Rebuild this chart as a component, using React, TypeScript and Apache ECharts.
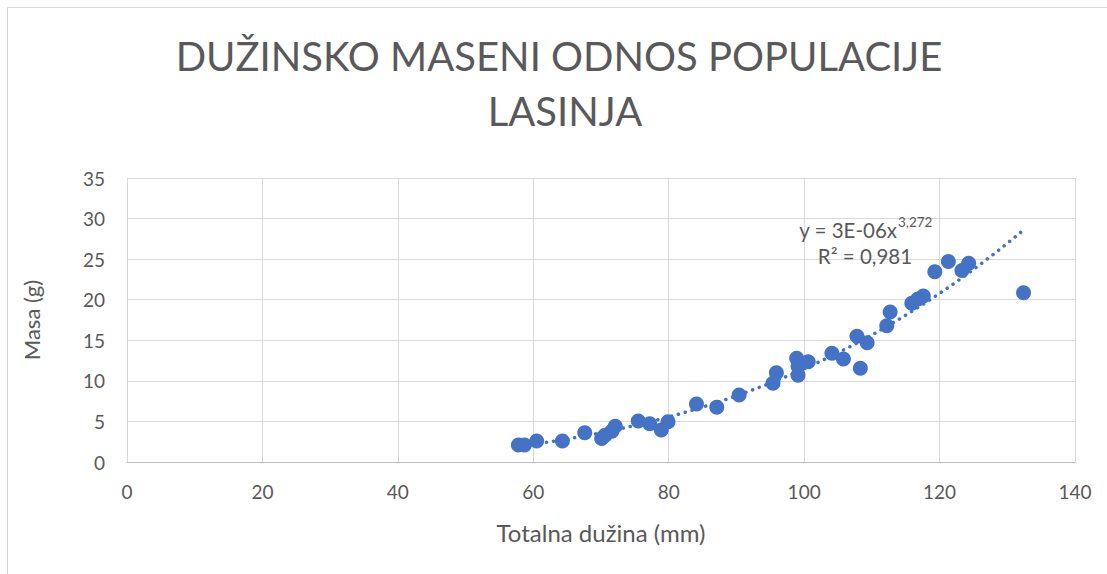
import React, { useEffect, useRef } from "react";
import * as echarts from "echarts";

const titleLines = ["DUŽINSKO MASENI ODNOS POPULACIJE", "LASINJA"];
const xAxisName = "Totalna dužina (mm)";
const yAxisName = "Masa (g)";
const equationMain = "y = 3E-06x";
const equationExp = "3,272";
const rSquaredText = "R² = 0,981";

const lengths = [
  57.8, 58.7, 60.5, 64.3, 67.6, 70.1, 70.6, 71.6, 72.1, 75.5, 77.2, 78.9, 79.9,
  84.1, 87.1, 90.4, 95.4, 95.9, 98.9, 99.1, 99.1, 100.6, 104.1, 105.8, 107.8,
  108.3, 109.3, 112.2, 112.7, 115.9, 116.8, 117.6, 119.3, 121.3, 123.3, 124.3,
  132.4,
];
const masses = [
  2.1, 2.1, 2.6, 2.6, 3.6, 2.9, 3.3, 3.8, 4.4, 5.05, 4.7, 3.95, 4.95, 7.15,
  6.75, 8.25, 9.7, 11.0, 12.8, 11.8, 10.7, 12.35, 13.4, 12.7, 15.5, 11.55,
  14.7, 16.8, 18.5, 19.55, 20.1, 20.45, 23.45, 24.7, 23.6, 24.5, 20.85,
];

const xTicks = { min: 0, max: 140, interval: 20 };
const yTicks = { min: 0, max: 35, interval: 5 };

function powerFit(xs: number[], ys: number[]) {
  const n = xs.length;
  let sx = 0, sy = 0, sxx = 0, sxy = 0;
  for (let i = 0; i < n; i++) {
    const lx = Math.log(xs[i]);
    const ly = Math.log(ys[i]);
    sx += lx; sy += ly; sxx += lx * lx; sxy += lx * ly;
  }
  const b = (n * sxy - sx * sy) / (n * sxx - sx * sx);
  const lnA = (sy - b * sx) / n;
  return { a: Math.exp(lnA), b };
}

export default function App() {
  const ref = useRef<HTMLDivElement>(null);
  useEffect(() => {
    if (!ref.current) return;
    const chart = echarts.init(ref.current, null, { renderer: "svg" });
    const fit = powerFit(lengths, masses);
    const xmin = Math.min(...lengths);
    const xmax = Math.max(...lengths);
    const trend: number[][] = [];
    const steps = 120;
    for (let i = 0; i <= steps; i++) {
      const x = xmin + ((xmax - xmin) * i) / steps;
      trend.push([x, fit.a * Math.pow(x, fit.b)]);
    }
    const font = "Lato, 'Open Sans', sans-serif";
    const textColor = "#595959";
    chart.setOption({
      animation: false,
      backgroundColor: "#ffffff",
      grid: { left: 127, right: 32, top: 178, bottom: 112, containLabel: false },
      xAxis: {
        type: "value",
        min: xTicks.min,
        max: xTicks.max,
        interval: xTicks.interval,
        name: xAxisName,
        nameLocation: "middle",
        nameGap: 58,
        nameTextStyle: { color: textColor, fontSize: 24, fontFamily: font },
        axisLine: { show: true, lineStyle: { color: "#bfbfbf", width: 1 } },
        axisTick: { show: false },
        axisLabel: { color: textColor, fontSize: 19, fontFamily: font, margin: 20 },
        splitLine: { show: true, lineStyle: { color: "#d9d9d9", width: 1 } },
      },
      yAxis: {
        type: "value",
        min: yTicks.min,
        max: yTicks.max,
        interval: yTicks.interval,
        name: yAxisName,
        nameLocation: "middle",
        nameGap: 85,
        nameRotate: 90,
        nameTextStyle: { color: textColor, fontSize: 22, fontFamily: font },
        axisLine: { show: false },
        axisTick: { show: false },
        axisLabel: { color: textColor, fontSize: 19, fontFamily: font, margin: 22 },
        splitLine: { show: true, lineStyle: { color: "#d9d9d9", width: 1 } },
      },
      series: [
        {
          type: "line",
          data: trend,
          showSymbol: false,
          symbol: "none",
          silent: true,
          lineStyle: { color: "#4472C4", width: 3.5, type: [0.1, 7], cap: "round" },
          z: 3,
        },
        {
          type: "scatter",
          data: lengths.map((x, i) => [x, masses[i]]),
          symbolSize: 15,
          itemStyle: { color: "#4472C4", opacity: 1 },
          z: 2,
        },
      ],
      graphic: [
        {
          type: "rect",
          shape: { x: 7.5, y: 7.5, width: 1300, height: 800 },
          style: { fill: "none", stroke: "#d9d9d9", lineWidth: 1 },
          silent: true,
        },
        {
          type: "text",
          x: 559,
          y: 56,
          style: {
            text: titleLines[0],
            fill: textColor,
            font: `40px ${font}`,
            textAlign: "center",
            textVerticalAlign: "middle",
          },
        },
        {
          type: "text",
          x: 565,
          y: 111,
          style: {
            text: titleLines[1],
            fill: textColor,
            font: `40px ${font}`,
            textAlign: "center",
            textVerticalAlign: "middle",
          },
        },
        {
          type: "text",
          x: 897,
          y: 230,
          z: 10,
          style: {
            text: equationMain,
            fill: textColor,
            font: `20.5px ${font}`,
            textAlign: "right",
            textVerticalAlign: "middle",
          },
        },
        {
          type: "text",
          x: 898,
          y: 222,
          z: 10,
          style: {
            text: equationExp,
            fill: textColor,
            font: `13.5px ${font}`,
            textAlign: "left",
            textVerticalAlign: "middle",
          },
        },
        {
          type: "text",
          x: 865,
          y: 256,
          z: 10,
          style: {
            text: rSquaredText,
            fill: textColor,
            font: `20.5px ${font}`,
            textAlign: "center",
            textVerticalAlign: "middle",
          },
        },
      ],
    });
    return () => chart.dispose();
  }, []);
  return (
    <div
      ref={ref}
      style={{ position: "absolute", left: 0, top: 0, width: 1107, height: 574, background: "#fff" }}
    />
  );
}
